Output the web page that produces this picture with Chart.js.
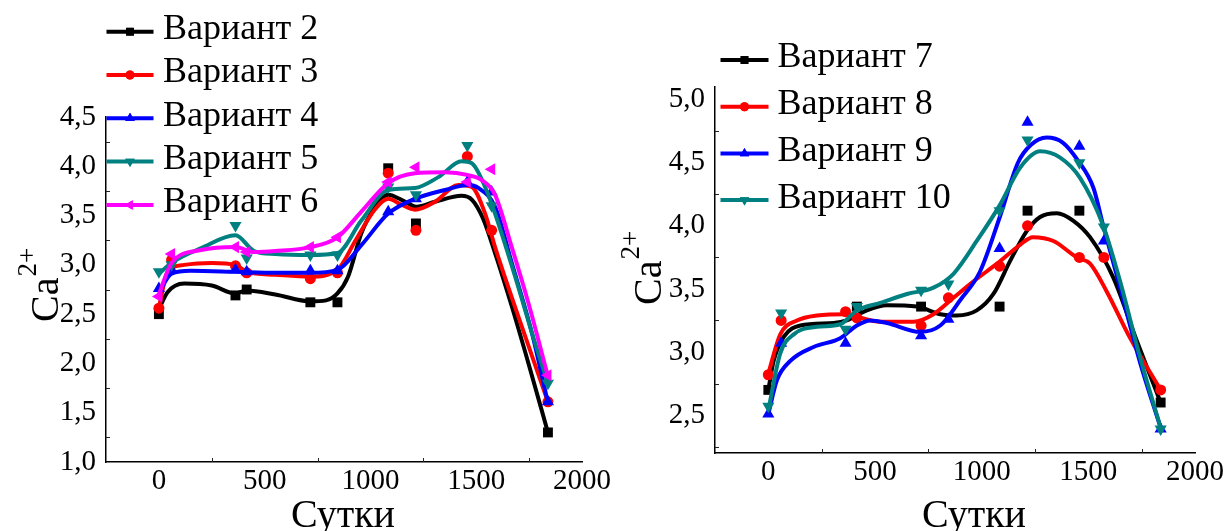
<!DOCTYPE html>
<html lang="ru">
<head>
<meta charset="utf-8">
<title>Ca2+ — Варианты 2–10</title>
<script src="https://cdn.jsdelivr.net/npm/chart.js@4.4.1/dist/chart.umd.min.js"></script>
<style>
  html, body { margin: 0; padding: 0; background: #fff; }
  #wrap { position: relative; width: 1228px; height: 531px; overflow: hidden; background: #fff; }
  #wrap canvas { position: absolute; top: 0; }
  #cLeft { left: 0; }
  #cRight { left: 614px; }
</style>
</head>
<body>
<div id="wrap">
  <canvas id="cLeft" width="614" height="531"></canvas>
  <canvas id="cRight" width="614" height="531"></canvas>
</div>
<script>
// Sampling days (Сутки), shared by both panels
const days = [0, 60, 362, 415, 716, 844, 1084, 1215, 1458, 1573, 1839];

// Axis tick labels
const xTicks = [0, 500, 1000, 1500, 2000];
const xMinorTicks = [250, 750, 1250, 1750];
const yTicksLeft = [1.0, 1.5, 2.0, 2.5, 3.0, 3.5, 4.0, 4.5];
const yMinorLeft = [1.25, 1.75, 2.25, 2.75, 3.25, 3.75, 4.25];
const yTicksRight = [2.5, 3.0, 3.5, 4.0, 4.5, 5.0];
const yMinorRight = [2.25, 2.75, 3.25, 3.75, 4.25, 4.75];

// Measured Ca2+ per sampling day (null = no point)
const var2 = [2.50, null, 2.69, 2.75, 2.62, 2.62, 3.98, 3.42, null, null, 1.30];
const var3 = [2.56, 3.05, 2.99, 2.92, 2.86, 2.92, 3.93, 3.35, 4.10, 3.35, 1.61];
const var4 = [2.76, 2.95, 2.95, 2.93, 2.94, 2.94, 3.54, 3.67, 3.84, 3.74, 1.61];
const var5 = [2.93, 3.00, 3.40, 3.07, 3.10, 3.10, 3.79, 3.71, 4.21, 3.60, 1.80];
const var6 = [2.68, 3.11, 3.18, 3.13, 3.18, 3.28, 3.84, 3.99, 3.84, 3.97, 1.88];

const var7  = [2.70, null, null, 3.36, 3.36, null, 3.36, 4.12, 4.12, null, 2.60];
const var8  = [2.82, 3.25, 3.32, 3.27, 3.21, 3.43, 3.68, 4.00, 3.75, 3.75, 2.70];
const var9  = [2.51, 3.07, 3.07, null, 3.13, 3.26, 3.82, 4.82, 4.63, 3.88, 2.39];
const var10 = [2.57, 3.31, 3.18, 3.36, 3.49, 3.54, 4.12, 4.68, 4.50, 3.99, 2.39];

// Smoothed trend curves, [day, Ca2+]
const fit2 = [[0,2.55],[40,2.72],[120,2.81],[250,2.79],[362,2.71],[415,2.74],[550,2.70],[716,2.63],[790,2.64],[844,2.71],[894,2.88],[957,3.32],[1020,3.58],[1084,3.71],[1147,3.66],[1218,3.59],[1305,3.64],[1430,3.70],[1480,3.66],[1530,3.48],[1589,3.12],[1668,2.58],[1747,2.00],[1839,1.30]];
const fit3 = [[0,2.57],[40,2.92],[120,3.00],[250,3.02],[362,3.00],[415,2.93],[550,2.90],[716,2.88],[844,2.95],[930,3.25],[1020,3.56],[1084,3.67],[1147,3.61],[1210,3.56],[1305,3.64],[1416,3.81],[1479,3.79],[1542,3.52],[1589,3.18],[1700,2.47],[1839,1.61]];
const fit4 = [[0,2.72],[60,2.91],[150,2.94],[362,2.93],[550,2.92],[716,2.92],[844,2.95],[957,3.20],[1084,3.52],[1210,3.67],[1352,3.76],[1463,3.81],[1510,3.78],[1589,3.59],[1668,3.02],[1763,2.31],[1839,1.60]];
const fit5 = [[0,2.91],[60,3.02],[200,3.17],[362,3.30],[450,3.14],[550,3.11],[716,3.10],[844,3.12],[957,3.45],[1084,3.76],[1210,3.78],[1321,3.89],[1431,4.05],[1479,4.03],[1542,3.79],[1589,3.52],[1684,2.88],[1779,2.20],[1839,1.80]];
const fit6 = [[0,2.70],[60,3.02],[200,3.15],[362,3.18],[450,3.13],[550,3.14],[716,3.18],[844,3.28],[957,3.54],[1084,3.83],[1210,3.93],[1352,3.94],[1463,3.91],[1526,3.86],[1589,3.71],[1668,3.18],[1747,2.61],[1839,1.87]];

const fit7 = [[0,2.70],[25,2.93],[72,3.12],[150,3.21],[306,3.23],[368,3.25],[462,3.33],[556,3.37],[696,3.36],[806,3.30],[884,3.29],[977,3.33],[1055,3.46],[1133,3.72],[1212,3.96],[1274,4.07],[1352,4.10],[1430,4.04],[1508,3.91],[1617,3.59],[1727,3.09],[1839,2.60]];
const fit8 = [[0,2.83],[56,3.14],[134,3.25],[228,3.29],[368,3.30],[415,3.28],[525,3.24],[681,3.24],[774,3.30],[868,3.43],[962,3.56],[1087,3.72],[1180,3.85],[1240,3.91],[1336,3.88],[1446,3.75],[1508,3.70],[1586,3.48],[1696,3.11],[1839,2.70]];
const fit9 = [[0,2.51],[41,2.78],[103,2.93],[212,3.04],[337,3.11],[415,3.21],[478,3.25],[556,3.23],[712,3.16],[806,3.21],[899,3.41],[993,3.64],[1087,4.08],[1170,4.50],[1230,4.64],[1305,4.70],[1380,4.66],[1450,4.52],[1524,4.30],[1570,4.00],[1649,3.51],[1742,2.92],[1839,2.40]];
const fit10 = [[0,2.54],[56,2.99],[119,3.14],[228,3.20],[337,3.22],[415,3.33],[525,3.39],[650,3.46],[774,3.51],[868,3.62],[977,3.88],[1087,4.17],[1180,4.46],[1274,4.59],[1368,4.54],[1461,4.38],[1570,4.00],[1649,3.56],[1742,2.96],[1839,2.40]];

const labelsLeft = ['Вариант 2', 'Вариант 3', 'Вариант 4', 'Вариант 5', 'Вариант 6'];
const labelsRight = ['Вариант 7', 'Вариант 8', 'Вариант 9', 'Вариант 10'];

// ---- styling ----
const SERIF = '"Liberation Serif", "Times New Roman", serif';
Chart.defaults.font.family = SERIF;
Chart.defaults.color = '#000';

const BLACK = '#000000', RED = '#ff0000', BLUE = '#0000ff', TEAL = '#008080', MAGENTA = '#ff00ff';
const MARK = {
  square:   { style: 'rect',     rot: 0,   r: 7,   lr: 5.5 },
  circle:   { style: 'circle',   rot: 0,   r: 5.5, lr: 4.5 },
  triUp:    { style: 'triangle', rot: 0,   r: 7,   lr: 5.5 },
  triDown:  { style: 'triangle', rot: 180, r: 7,   lr: 5.5 },
  triLeft:  { style: 'triangle', rot: 270, r: 7,   lr: 5.5 }
};

const seriesLeft = [
  { label: labelsLeft[0], values: var2, fit: fit2, color: BLACK,   mark: MARK.square },
  { label: labelsLeft[1], values: var3, fit: fit3, color: RED,     mark: MARK.circle },
  { label: labelsLeft[2], values: var4, fit: fit4, color: BLUE,    mark: MARK.triUp },
  { label: labelsLeft[3], values: var5, fit: fit5, color: TEAL,    mark: MARK.triDown },
  { label: labelsLeft[4], values: var6, fit: fit6, color: MAGENTA, mark: MARK.triLeft }
];
const seriesRight = [
  { label: labelsRight[0], values: var7,  fit: fit7,  color: BLACK, mark: MARK.square },
  { label: labelsRight[1], values: var8,  fit: fit8,  color: RED,   mark: MARK.circle },
  { label: labelsRight[2], values: var9,  fit: fit9,  color: BLUE,  mark: MARK.triUp },
  { label: labelsRight[3], values: var10, fit: fit10, color: TEAL,  mark: MARK.triDown }
];

function buildDatasets(series) {
  const sets = [];
  series.forEach((s, i) => {
    const base = 100 - i * 2; // later series drawn on top
    sets.push({
      label: s.label,
      data: s.fit.map(([x, y]) => ({ x, y })),
      showLine: true,
      borderColor: s.color,
      borderWidth: 4,
      pointRadius: 0,
      cubicInterpolationMode: 'monotone',
      fill: false,
      order: base
    });
    sets.push({
      label: s.label + ' — точки',
      data: days.map((d, k) => ({ x: d, y: s.values[k] })).filter(p => p.y !== null),
      showLine: false,
      pointStyle: s.mark.style,
      rotation: s.mark.rot,
      pointRadius: s.mark.r,
      pointBackgroundColor: s.color,
      pointBorderColor: s.color,
      pointBorderWidth: 0,
      order: base - 1
    });
  });
  return sets;
}

const fmt = v => v.toFixed(1).replace('.', ',');

// Legend, axis titles and inward minor ticks
const decorations = {
  id: 'decorations',
  afterDraw(chart, args, opts) {
    const { ctx } = chart;
    const xs = chart.scales.x, ys = chart.scales.y;
    ctx.save();

    // minor ticks pointing into the plot
    ctx.strokeStyle = '#222';
    ctx.lineWidth = 1;
    ctx.beginPath();
    opts.xMinor.forEach(v => {
      const px = Math.round(xs.getPixelForValue(v)) + 0.5;
      ctx.moveTo(px, ys.bottom);
      ctx.lineTo(px, ys.bottom - 4);
    });
    opts.yMinor.forEach(v => {
      const py = Math.round(ys.getPixelForValue(v)) + 0.5;
      ctx.moveTo(xs.left, py);
      ctx.lineTo(xs.left + 4, py);
    });
    ctx.stroke();

    // legend
    const lg = opts.legend;
    opts.series.forEach((s, i) => {
      const y = lg.y0 + i * lg.dy;
      ctx.strokeStyle = s.color;
      ctx.lineWidth = 4;
      ctx.beginPath();
      ctx.moveTo(lg.x1, y);
      ctx.lineTo(lg.x2, y);
      ctx.stroke();
      ctx.fillStyle = s.color;
      Chart.helpers.drawPoint(ctx, {
        pointStyle: s.mark.style, rotation: s.mark.rot, radius: s.mark.lr, borderWidth: 0
      }, (lg.x1 + lg.x2) / 2, y);
      ctx.fill();
      ctx.fillStyle = '#000';
      ctx.font = lg.size + 'px ' + SERIF;
      ctx.textAlign = 'left';
      ctx.textBaseline = 'middle';
      ctx.fillText(s.label, lg.tx, y - 2);
    });

    // x title
    ctx.fillStyle = '#000';
    ctx.font = '40px ' + SERIF;
    ctx.textAlign = 'center';
    ctx.textBaseline = 'alphabetic';
    ctx.fillText('Сутки', opts.xTitle.x, opts.xTitle.y);

    // y title: Ca with superscript 2+
    ctx.translate(opts.yTitle.x, opts.yTitle.y);
    ctx.rotate(-Math.PI / 2);
    ctx.textAlign = 'left';
    ctx.font = '40px ' + SERIF;
    ctx.fillText('Ca', 0, 0);
    const w = ctx.measureText('Ca').width;
    ctx.font = '27px ' + SERIF;
    ctx.fillText('2+', w + 1, -22);

    ctx.restore();
  }
};

function makeChart(id, series, cfg) {
  const tickFont = { family: SERIF, size: 29, lineHeight: 1 };
  return new Chart(document.getElementById(id), {
    type: 'scatter',
    data: { datasets: buildDatasets(series) },
    plugins: [decorations],
    options: {
      responsive: false,
      animation: false,
      devicePixelRatio: 1,
      events: [],
      layout: { padding: { top: cfg.top, right: cfg.right, left: 0, bottom: 0 } },
      plugins: {
        legend: { display: false },
        tooltip: { enabled: false },
        decorations: {
          series,
          legend: cfg.legend,
          xMinor: xMinorTicks,
          yMinor: cfg.yMinor,
          xTitle: cfg.xTitle,
          yTitle: cfg.yTitle
        }
      },
      scales: {
        x: {
          type: 'linear',
          min: -250, max: 2000,
          afterBuildTicks: a => { a.ticks = xTicks.map(v => ({ value: v })); },
          afterFit: s => { s.height = cfg.xAxisH; },
          grid: { display: false },
          border: { display: true, color: '#000', width: 1.5 },
          ticks: {
            color: '#000', padding: -3, maxRotation: 0, autoSkip: false,
            font: tickFont,
            callback: v => String(v)
          }
        },
        y: {
          type: 'linear',
          min: cfg.yMin, max: cfg.yMax,
          afterBuildTicks: a => { a.ticks = cfg.yTicks.map(v => ({ value: v })); },
          afterFit: s => { s.width = cfg.yAxisW; },
          grid: { display: false },
          border: { display: true, color: '#000', width: 1.5 },
          ticks: {
            color: '#000', padding: 2, autoSkip: false,
            font: tickFont,
            callback: v => fmt(v)
          }
        }
      }
    }
  });
}

makeChart('cLeft', seriesLeft, {
  top: 117, right: 32, xAxisH: 69, yAxisW: 106,
  yMin: 1.0, yMax: 4.5, yTicks: yTicksLeft, yMinor: yMinorLeft,
  legend: { x1: 106.5, x2: 153.5, tx: 163, y0: 31.7, dy: 43.3, size: 36 },
  xTitle: { x: 343, y: 527 },
  yTitle: { x: 58, y: 322 }
});

makeChart('cRight', seriesRight, {
  top: 87, right: 33, xAxisH: 78, yAxisW: 101,
  yMin: 2.2, yMax: 5.1, yTicks: yTicksRight, yMinor: yMinorRight,
  legend: { x1: 106.5, x2: 154.5, tx: 163.5, y0: 60, dy: 46.7, size: 36 },
  xTitle: { x: 360, y: 527 },
  yTitle: { x: 47, y: 305 }
});
</script>
</body>
</html>
